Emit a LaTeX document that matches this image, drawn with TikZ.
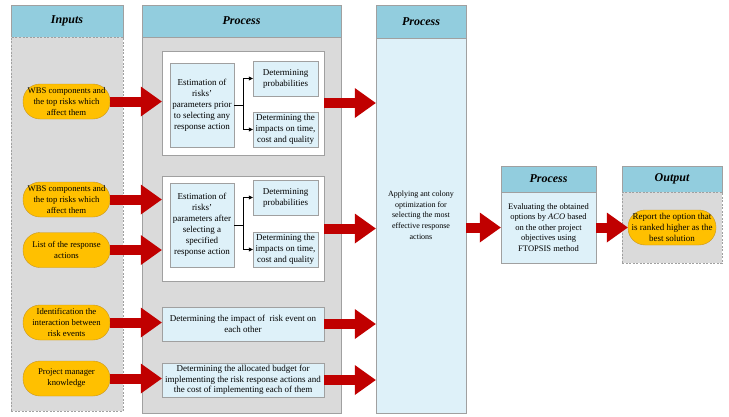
\documentclass[tikz,border=0pt]{standalone}
\usepackage{fontspec}
\setmainfont{Liberation Serif}
\usetikzlibrary{arrows.meta}
\definecolor{hdrblue}{RGB}{146,205,222}
\definecolor{bodygray}{RGB}{218,218,218}
\definecolor{lblue}{RGB}{222,241,249}
\definecolor{gold}{RGB}{255,192,0}
\definecolor{goldedge}{RGB}{200,150,30}
\definecolor{bigred}{RGB}{192,0,0}
\definecolor{edgegray}{RGB}{160,160,160}
\tikzset{
  hdr/.style={draw=edgegray, fill=hdrblue, inner sep=0pt, font=\fontsize{12}{14}\selectfont\bfseries\itshape},
  colbody/.style={draw=edgegray, fill=bodygray, inner sep=0pt},
  dashedbody/.style={colbody, dashed, dash pattern=on 2pt off 1.5pt},
  lbox/.style={draw=edgegray, fill=lblue, inner sep=0pt, align=center, font=\fontsize{9}{11}\selectfont},
  wbox/.style={draw=edgegray, fill=white, inner sep=0pt},
  inp/.style={draw=goldedge, fill=gold, rounded corners=17pt, inner sep=0pt, minimum width=87pt, minimum height=35pt, align=center, font=\fontsize{8.7}{11}\selectfont},
  bigarrow/.style={draw=bigred, line width=10pt, line cap=butt, -{Triangle[width=30pt,length=21pt,line width=0pt]}},
  thinarrow/.style={draw=black, line width=0.6pt, -{Triangle[width=4pt,length=4pt]}}
}
\begin{document}
\begin{tikzpicture}[x=1pt,y=-1pt]
\useasboundingbox (0,0) rectangle (729,416);
% columns
\node[hdr, minimum width=112pt, minimum height=32pt] (hin) at (67,21) {Inputs};
\node[dashedbody, minimum width=112pt, minimum height=374pt] (bin) at (67,224) {};
\node[hdr, minimum width=199pt, minimum height=32pt] (hp1) at (241.5,21) {Process};
\node[colbody, minimum width=199pt, minimum height=376pt] (bp1) at (241.5,225) {};
\node[hdr, minimum width=90pt, minimum height=33pt] (hp2) at (421,21.5) {Process};
\node[lbox, minimum width=90pt, minimum height=375pt] (bp2) at (421,225.5) {};
\node[align=center, inner sep=0pt, font=\fontsize{8}{10.7}\selectfont] (aco) at (421,215) {Applying ant colony\\optimization for\\selecting the most\\effective response\\actions};
\node[hdr, minimum width=95pt, minimum height=26pt] (hp3) at (548.5,179) {Process};
\node[lbox, minimum width=95pt, minimum height=71pt, font=\fontsize{8.5}{10.5}\selectfont] (bp3) at (548.5,227.5) {Evaluating the obtained\\options by \textit{ACO} based\\on the other project\\objectives using\\FTOPSIS method};
\node[hdr, minimum width=100pt, minimum height=26pt] (hout) at (672,179) {Output};
\node[dashedbody, minimum width=100pt, minimum height=71pt] (bout) at (672,227.5) {};
\node[inp, minimum width=88pt, font=\fontsize{9}{11}\selectfont] (rep) at (672,227.5) {Report the option that\\is ranked higher as the\\best solution};
% inputs
\node[inp] (wbs1) at (66.5,101.5) {WBS components and\\the top risks which\\affect them};
\node[inp] (wbs2) at (66.5,199.5) {WBS components and\\the top risks which\\affect them};
\node[inp] (list) at (66.5,250) {List of the response\\actions};
\node[inp] (ident) at (66.5,322.5) {Identification the\\interaction between\\risk events};
\node[inp] (pm) at (66.5,378.5) {Project manager\\knowledge};
% process column 1
\node[wbox, minimum width=162pt, minimum height=104pt] (white1) at (243,103) {};
\node[lbox, minimum width=64pt, minimum height=84pt] (est1) at (202,105) {Estimation of\\risks’\\parameters prior\\to selecting any\\response action};
\node[lbox, minimum width=65pt, minimum height=35pt] (prob1) at (285.5,78.5) {Determining\\probabilities};
\node[lbox, minimum width=65pt, minimum height=35pt] (imp1) at (285.5,129.5) {Determining the\\impacts on time,\\cost and quality};
\node[wbox, minimum width=162pt, minimum height=105pt] (white2) at (243,228.5) {};
\node[lbox, minimum width=64pt, minimum height=84pt] (est2) at (202,225) {Estimation of\\risks’\\parameters after\\selecting a\\specified\\response action};
\node[lbox, minimum width=65pt, minimum height=35pt] (prob2) at (285.5,197.5) {Determining\\probabilities};
\node[lbox, minimum width=65pt, minimum height=35pt] (imp2) at (285.5,249.5) {Determining the\\impacts on time,\\cost and quality};
\node[lbox, minimum width=162pt, minimum height=34pt, font=\fontsize{9}{10.5}\selectfont] (impact) at (243,324) {Determining the impact of \ risk event on\\each other};
\node[lbox, minimum width=162pt, minimum height=34pt, font=\fontsize{9}{10.5}\selectfont] (budget) at (243,380) {Determining the allocated budget for\\implementing the risk response actions and\\the cost of implementing each of them};
% small connectors
\draw[line width=0.6pt] (est1.east) -- ++(9,0) coordinate (j1);
\draw[thinarrow] (j1) |- (prob1.west);
\draw[thinarrow] (j1) |- (imp1.west);
\draw[line width=0.6pt] (est2.east) -- ++(9,0) coordinate (j2);
\draw[thinarrow] (j2) |- (prob2.west);
\draw[thinarrow] (j2) |- (imp2.west);
% big arrows
\draw[bigarrow] (wbs1.east) -- (wbs1.east -| white1.west);
\draw[bigarrow] (wbs2.east) -- (wbs2.east -| white2.west);
\draw[bigarrow] (list.east) -- (list.east -| white2.west);
\draw[bigarrow] (ident.east) -- (ident.east -| impact.west);
\draw[bigarrow] (pm.east) -- (pm.east -| budget.west);
\draw[bigarrow] (white1.east) -- (white1.east -| bp2.west);
\draw[bigarrow] (white2.east) -- (white2.east -| bp2.west);
\draw[bigarrow] (impact.east) -- (impact.east -| bp2.west);
\draw[bigarrow] (budget.east) -- (budget.east -| bp2.west);
\draw[bigarrow] (bp2.east |- bp3.west) -- (bp3.west);
\draw[bigarrow] (bp3.east) -- (rep.west);
\end{tikzpicture}
\end{document}
